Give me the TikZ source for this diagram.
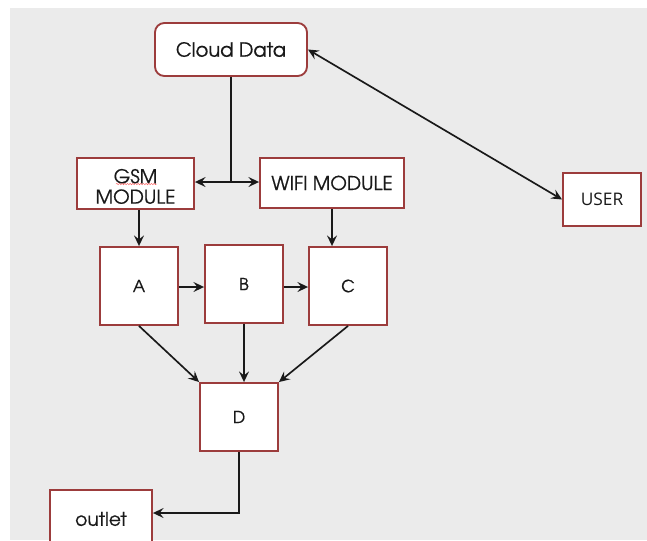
\documentclass[tikz,border=0pt]{standalone}
\usepackage{fontspec}
\setmainfont{TeX Gyre Adventor}[UprightFeatures={FakeBold=0.6}]
\newfontfamily\userfont{Open Sans}
\usetikzlibrary{arrows.meta,decorations.pathmorphing}
\definecolor{bgray}{HTML}{EBEBEB}
\definecolor{boxred}{HTML}{9C3C3C}
\tikzset{
  box/.style={draw=boxred, line width=1.4pt, fill=white, inner sep=0pt, align=center, text=black!90},
  conn/.style={draw=black!90, line width=1.25pt},
  tip/.style={-{Stealth[length=8pt,width=7.5pt,inset=3pt]}},
  tips/.style={{Stealth[length=8pt,width=7.5pt,inset=3pt]}-{Stealth[length=8pt,width=7.5pt,inset=3pt]}},
}
\begin{document}
\begin{tikzpicture}[x=0.75pt,y=-0.75pt]
\useasboundingbox (0,0) rectangle (647,540);
\clip (0,0) rectangle (647,540);
\fill[white] (0,0) rectangle (647,540);
\fill[bgray] (10,8) rectangle (647,540);

\node[box, rounded corners=7pt, minimum width=152*0.75pt, minimum height=53*0.75pt, font=\fontsize{14.6}{16}\selectfont] (cloud) at (231,49.5) {Cloud Data};
\node[box, minimum width=117*0.75pt, minimum height=51*0.75pt,
  label={[yshift=-2.2pt, align=center, text=black!90, font=\fontsize{14.3}{15.3}\selectfont]center:GSM\\MODULE}] (gsm) at (135.5,183.5) {};
\node[box, minimum width=144*0.75pt, minimum height=50*0.75pt, font=\fontsize{14.3}{16}\selectfont] (wifi) at (332,183) {WIFI MODULE};
\node[box, minimum width=78*0.75pt, minimum height=53*0.75pt, font=\userfont\fontsize{13}{15}\selectfont] (user) at (602,199.5) {USER};

\node[box, minimum width=78*0.75pt, minimum height=78*0.75pt, font=\fontsize{12.5}{14}\selectfont] (A) at (139,286) {A};
\node[box, minimum width=78*0.75pt, minimum height=78*0.75pt, font=\fontsize{12.5}{14}\selectfont] (B) at (244,284) {B};
\node[box, minimum width=78*0.75pt, minimum height=78*0.75pt, font=\fontsize{12.5}{14}\selectfont] (C) at (348,286) {C};
\node[box, minimum width=78*0.75pt, minimum height=68*0.75pt, font=\fontsize{12.5}{14}\selectfont] (D) at (239,417) {D};
\node[box, minimum width=102*0.75pt, minimum height=58*0.75pt, font=\fontsize{14}{16}\selectfont] (outlet) at (101,519) {outlet};

% spell-check underline under GSM
\draw[red!60, line width=0.35pt, decorate, decoration={snake, amplitude=0.5pt, segment length=2pt}] (116,184) -- (157,184);

% connectors
\coordinate (J) at (231,182);
\draw[conn] (cloud.south -| J) -- (J);
\draw[conn, tip] (J) -- (gsm.east |- J);
\draw[conn, tip] (J) -- (wifi.west |- J);
\draw[conn, tips] (cloud.east) -- (user.west);

\draw[conn, tip] (A.north |- gsm.south) -- (A.north);
\draw[conn, tip] (wifi.south) -- (wifi.south |- C.north);

\coordinate (R) at (0,287);
\draw[conn, tip] (A.east |- R) -- (B.west |- R);
\draw[conn, tip] (B.east |- R) -- (C.west |- R);

\draw[conn, tip] (A.south) -- (D.north west);
\draw[conn, tip] (B.south) -- (B.south |- D.north);
\draw[conn, tip] (C.south) -- (D.north east);

\coordinate (K) at (239,513);
\draw[conn, tip] (D.south) -- (K) -- (outlet.east |- K);
\end{tikzpicture}
\end{document}
